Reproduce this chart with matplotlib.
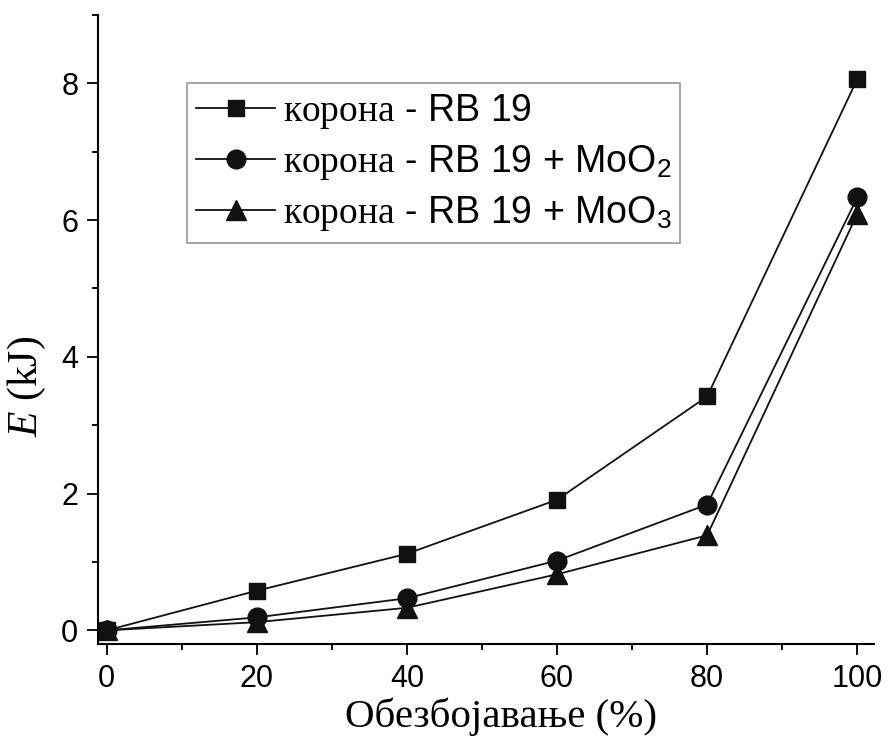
import numpy as np
import matplotlib.pyplot as plt
from matplotlib.ticker import MultipleLocator

plt.rcParams['mathtext.fontset'] = 'custom'
plt.rcParams['mathtext.rm'] = 'Liberation Serif'
plt.rcParams['mathtext.it'] = 'Liberation Serif:italic'
plt.rcParams['mathtext.sf'] = 'Liberation Sans'

# podaci
obezboj = [0, 20, 40, 60, 80, 100]
e_rb19 = [0.0, 0.58, 1.12, 1.91, 3.42, 8.06]
e_moo2 = [0.0, 0.19, 0.47, 1.02, 1.84, 6.33]
e_moo3 = [0.0, 0.12, 0.33, 0.82, 1.39, 6.09]
labels = [r'$\mathrm{корона}$ - RB 19',
          r'$\mathrm{корона}$ - RB 19 + MoO$_\mathsf{2}$',
          r'$\mathrm{корона}$ - RB 19 + MoO$_\mathsf{3}$']

fig = plt.figure(figsize=(8.88, 7.42), dpi=100)
ax = fig.add_axes([0.110, 0.132, 0.874, 0.848])

lc = '#111111'
ax.plot(obezboj, e_rb19, '-s', color=lc, lw=1.3, ms=12, label=labels[0])
ax.plot(obezboj, e_moo2, '-o', color=lc, lw=1.3, ms=13.5, label=labels[1])
ax.plot(obezboj, e_moo3, '-^', color=lc, lw=1.3, ms=14.5, label=labels[2])

ax.set_xlim(-1.2, 102.2)
ax.set_ylim(-0.2, 9.0)
ax.xaxis.set_major_locator(MultipleLocator(20))
ax.xaxis.set_minor_locator(MultipleLocator(10))
ax.yaxis.set_major_locator(MultipleLocator(2))
ax.yaxis.set_minor_locator(MultipleLocator(1))

ax.spines['top'].set_visible(False)
ax.spines['right'].set_visible(False)
for s in ['left', 'bottom']:
    ax.spines[s].set_linewidth(1.5)
ax.tick_params(which='major', direction='out', length=8, width=1.3,
               labelsize=22, pad=6)
ax.tick_params(which='minor', direction='out', length=4.5, width=1.3)
for t in ax.get_xticklabels() + ax.get_yticklabels():
    t.set_fontfamily('Liberation Sans')

ax.set_xlabel('Обезбојавање (%)', family='Liberation Serif', fontsize=29.5)
ax.xaxis.set_label_coords(0.52, -0.085)
ax.set_ylabel('$E$ (kJ)', family='Liberation Serif', fontsize=30)
ax.yaxis.set_label_coords(-0.064, 0.41)

leg = ax.legend(loc='upper left', bbox_to_anchor=(0.115, 0.892),
                prop={'family': 'Liberation Sans', 'size': 27},
                handlelength=2.1, handletextpad=0.2, borderpad=0.25,
                labelspacing=0.32, fancybox=False, borderaxespad=0)
leg.get_frame().set_edgecolor('#888888')
leg.get_frame().set_linewidth(1.3)

fig.savefig('out.png', dpi=100)
